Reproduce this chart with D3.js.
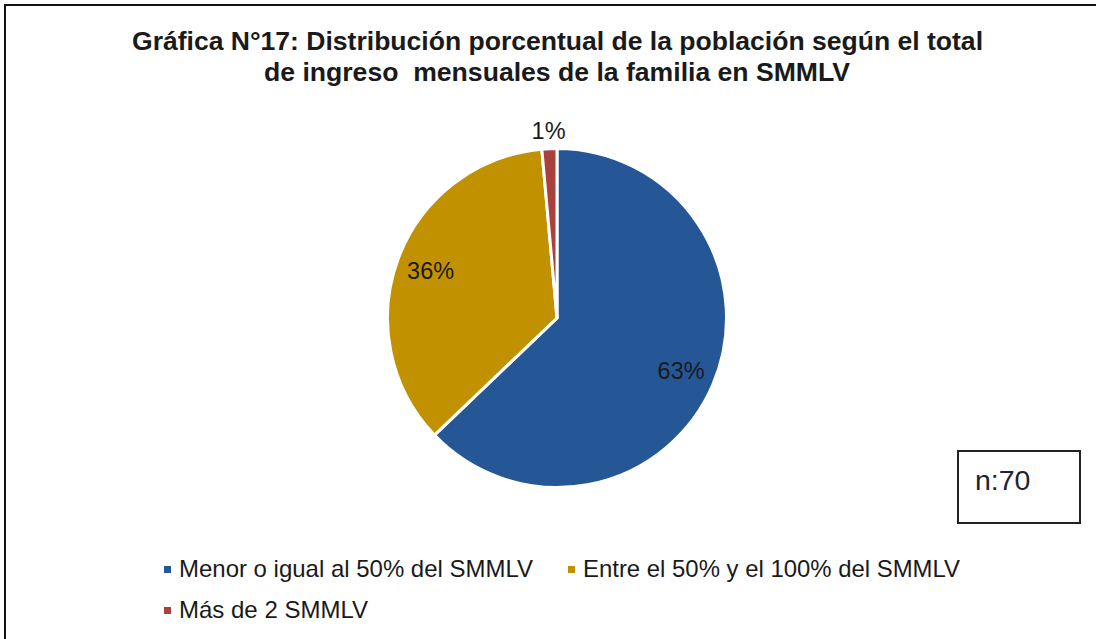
<!DOCTYPE html>
<html>
<head>
<meta charset="utf-8">
<script src="https://cdn.jsdelivr.net/npm/d3@7/dist/d3.min.js"></script>
<style>
  html, body { margin: 0; padding: 0; background: #fff; }
  svg { display: block; }
  text { font-family: "Liberation Sans", Arial, sans-serif; }
</style>
</head>
<body>
<svg id="chart" width="1096" height="639"></svg>
<script>
const titleLines = [
  "Gráfica N°17: Distribución porcentual de la población según el total",
  "de ingreso  mensuales de la familia en SMMLV"
];
const categories = [
  "Menor o igual al 50% del SMMLV",
  "Entre el 50% y el 100% del SMMLV",
  "Más de 2 SMMLV"
];
const values = [44, 25, 1];
const pctLabels = ["63%", "36%", "1%"];
const colors = ["#255797", "#C19100", "#A8403E"];
const nLabel = "n:70";

const svg = d3.select("#chart");

// outer frame
svg.append("rect")
  .attr("x", 5).attr("y", 5)
  .attr("width", 1200).attr("height", 800)
  .attr("fill", "none").attr("stroke", "#111").attr("stroke-width", 2);

// title
const titleSpecs = [
  { y: 50, x0: 132, x1: 983 },
  { y: 81, x0: 264, x1: 850 }
];
titleLines.forEach((t, i) => {
  svg.append("text")
    .attr("x", titleSpecs[i].x0)
    .attr("y", titleSpecs[i].y)
    .attr("font-size", 25.5)
    .attr("font-weight", "bold")
    .attr("fill", "#1a1a1a")
    .attr("textLength", titleSpecs[i].x1 - titleSpecs[i].x0)
    .attr("lengthAdjust", "spacingAndGlyphs")
    .style("white-space", "pre")
    .text(t);
});

// pie
const cx = 557, cy = 318, r = 169.5;
const pie = d3.pie().sort(null).value(d => d)(values);
const arc = d3.arc().innerRadius(0).outerRadius(r);
const g = svg.append("g").attr("transform", `translate(${cx},${cy})`);
g.selectAll("path").data(pie).enter().append("path")
  .attr("d", arc)
  .attr("fill", (d, i) => colors[i])
  .attr("stroke", "#fff")
  .attr("stroke-width", 3)
  .attr("stroke-linejoin", "miter");

// data labels
const labelArc = d3.arc().innerRadius(135).outerRadius(135);
const outArc = d3.arc().innerRadius(r + 18).outerRadius(r + 18);
g.selectAll("text.lbl").data(pie).enter().append("text")
  .attr("class", "lbl")
  .attr("transform", (d, i) => {
    const c = i === 2 ? outArc.centroid(d) : labelArc.centroid(d);
    return `translate(${c[0]},${c[1]})`;
  })
  .attr("text-anchor", "middle")
  .attr("dy", "0.35em")
  .attr("font-size", 23.5)
  .attr("fill", "#1a1a1a")
  .text((d, i) => pctLabels[i]);

// n box
svg.append("rect")
  .attr("x", 958).attr("y", 451)
  .attr("width", 122).attr("height", 72)
  .attr("fill", "#fff").attr("stroke", "#222").attr("stroke-width", 2);
svg.append("text")
  .attr("x", 975).attr("y", 490)
  .attr("font-size", 28.5)
  .attr("fill", "#1f2333")
  .text(nLabel);

// legend
const legendPos = [
  { x: 164, y: 570, w: 354 },
  { x: 568, y: 570, w: 377 },
  { x: 164, y: 611, w: 189 }
];
categories.forEach((c, i) => {
  const p = legendPos[i];
  svg.append("rect")
    .attr("x", p.x).attr("y", p.y - 4)
    .attr("width", 7).attr("height", 7)
    .attr("fill", colors[i]);
  svg.append("text")
    .attr("x", p.x + 15).attr("y", p.y + 7)
    .attr("font-size", 24)
    .attr("fill", "#1a1a1a")
    .attr("textLength", p.w)
    .attr("lengthAdjust", "spacingAndGlyphs")
    .text(c);
});
</script>
</body>
</html>
